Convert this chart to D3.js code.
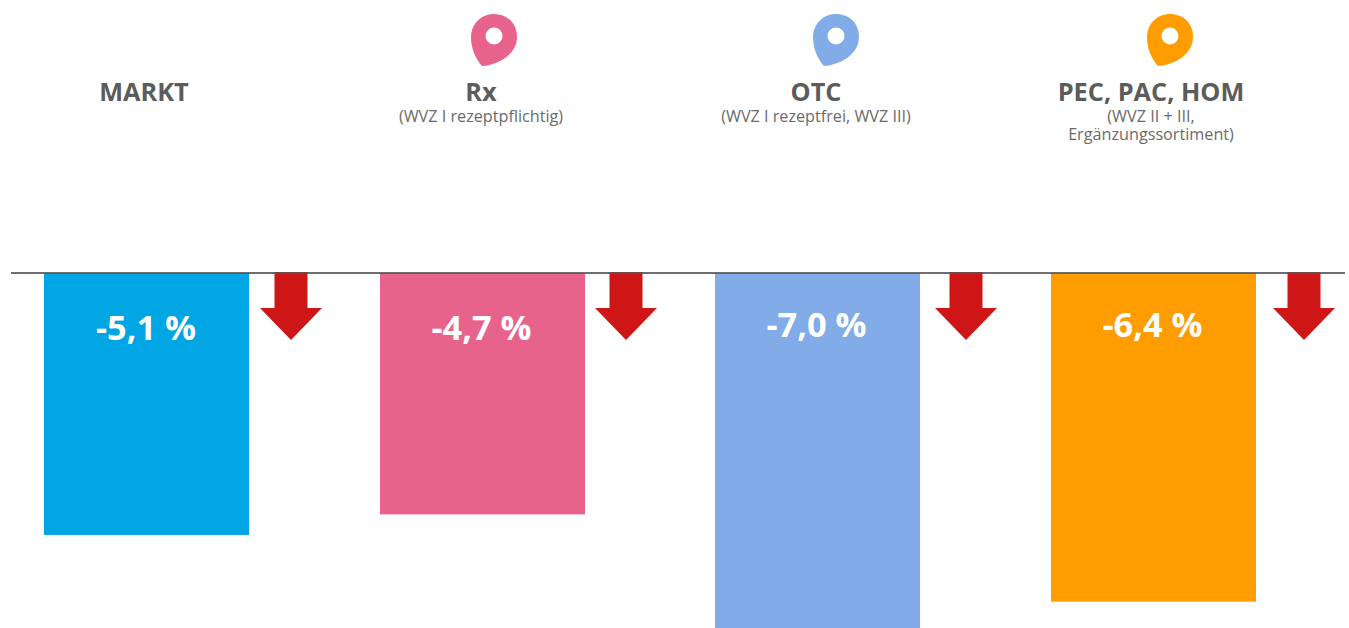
<!DOCTYPE html>
<html><head><meta charset="utf-8">
<script src="https://cdn.jsdelivr.net/npm/d3@7"></script>
<style>html,body{margin:0;padding:0;background:#fff;overflow:hidden}svg{display:block}text{font-family:"Open Sans",sans-serif}</style>
</head><body><svg id="c" width="1349" height="628"></svg>
<script>
const categories=["MARKT","Rx","OTC","PEC, PAC, HOM"];
const subtitles=[[],["(WVZ I rezeptpflichtig)"],["(WVZ I rezeptfrei, WVZ III)"],["(WVZ II + III,","Ergänzungssortiment)"]];
const values=[-5.1,-4.7,-7.0,-6.4];
const labels=["-5,1 %","-4,7 %","-7,0 %","-6,4 %"];
const colors=["#00a5e3","#e8638c","#82ace8","#ff9c00"];
const pinIdx=[1,2,3];
const barLeft=[44,380,715,1051];
const arrowX=[291,626,966,1304];
const svg=d3.select("#c");
const y=d3.scaleLinear().domain([0,-7.0]).range([273,632.5]);
const bw=205;
const g=svg.selectAll("g.b").data(values).join("g");
g.append("rect").attr("x",(d,i)=>barLeft[i]).attr("y",y(0)).attr("width",bw).attr("height",d=>y(d)-y(0)).attr("fill",(d,i)=>colors[i]);
g.append("path").attr("fill","#cf1616").attr("d",(d,i)=>{const x=arrowX[i];return `M${x-16.5},272H${x+16.5}V308H${x+31}L${x},340L${x-31},308H${x-16.5}Z`});
svg.append("line").attr("x1",11).attr("x2",1345).attr("y1",273).attr("y2",273).attr("stroke","#555").attr("stroke-opacity",0.85).attr("stroke-width",2);
g.append("text").attr("x",(d,i)=>barLeft[i]+bw/2+(i==0?-0.5:-1)).attr("y",(d,i)=>i<2?340:337).attr("text-anchor","middle").attr("font-size",34.4).attr("font-weight",700).attr("fill","#fff").text((d,i)=>labels[i]);
const cx=[144,481,816,1151];
svg.selectAll("text.t").data(categories).join("text").attr("class","t").attr("x",(d,i)=>cx[i]).attr("y",101).attr("text-anchor","middle").attr("font-size",25.3).attr("font-weight",700).attr("fill","#5c5c5c").text(d=>d);
subtitles.forEach((s,i)=>s.forEach((t,j)=>svg.append("text").attr("x",cx[i]).attr("y",122+j*18).attr("text-anchor","middle").attr("font-size",16.2).attr("fill","#6b6b6b").text(t)));
const pinX=[494,836,1170];
pinIdx.forEach((c,k)=>{const x=pinX[k];
 svg.append("path").attr("fill",colors[c]).attr("d",`M${x+23},37C${x+23},23 ${x+13},14 ${x},14C${x-13},14 ${x-23},24 ${x-23},37C${x-23},48 ${x-19},58 ${x-12},66C${x+3},65 ${x+23},55 ${x+23},37Z`);
 svg.append("circle").attr("cx",x).attr("cy",36).attr("r",8.5).attr("fill","#fff");
});
</script></body></html>
